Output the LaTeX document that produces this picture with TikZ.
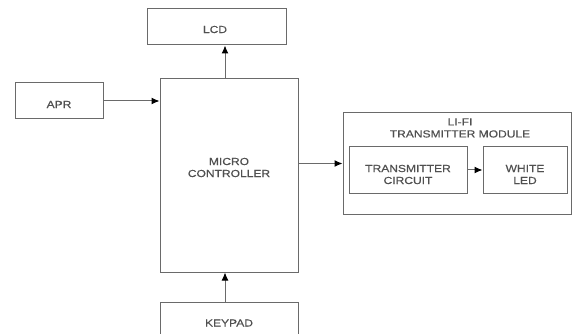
\documentclass[tikz,border=0pt]{standalone}
\usepackage{fontspec}
\setmainfont{Liberation Sans}[FakeStretch=1.18,FakeBold=0.3]
\usetikzlibrary{arrows.meta}
\definecolor{boxline}{HTML}{6A6A6A}
\definecolor{txt}{HTML}{505050}
\begin{document}
\begin{tikzpicture}[x=1pt,y=-1pt,
  blk/.style={draw=boxline,line width=1pt,fill=white,inner sep=0pt},
  lbl/.style={inner sep=0pt,text=txt,font=\fontsize{10.2}{12}\selectfont,align=center},
  conn/.style={draw=boxline,line width=1pt,-{Latex[length=8pt,width=7pt,black]}}]
\useasboundingbox (0,0) rectangle (573,334);
\clip (0,0) rectangle (573,334);
\fill[white] (0,0) rectangle (573,334);
\node[blk,minimum width=139pt,minimum height=36pt] (lcd) at (216.5,27) {};
\node[lbl] (lcdt) at (215,29.5) {LCD};
\node[blk,minimum width=88pt,minimum height=36pt] (apr) at (59,101) {};
\node[lbl] (aprt) at (59,104.5) {APR};
\node[blk,minimum width=138pt,minimum height=193pt] (mc) at (229,175.5) {};
\node[lbl] (mct) at (229,167.5) {MICRO\\CONTROLLER};
\node[blk,minimum width=138pt,minimum height=60pt,anchor=north] (kp) at (229,302) {};
\node[lbl] (kpt) at (229,323) {KEYPAD};
\node[blk,minimum width=228pt,minimum height=101pt] (lifi) at (457,163.5) {};
\node[lbl] (lifit) at (460,128) {LI-FI\\TRANSMITTER MODULE};
\node[blk,minimum width=118pt,minimum height=46pt] (tc) at (408,170) {};
\node[lbl] (tct) at (408,174.5) {TRANSMITTER\\CIRCUIT};
\node[blk,minimum width=84pt,minimum height=46pt] (wl) at (525,170) {};
\node[lbl] (wlt) at (525,174.5) {WHITE\\LED};
\draw[conn] (mc.north -| lcd.south) ++(8.5,0) coordinate (m1) -- (m1 |- lcd.south);
\draw[conn] (apr.east) -- (apr.east -| mc.west);
\coordinate (m2) at (mc.east |- lifi.west);
\draw[conn] (m2) -- (lifi.west);
\coordinate (k1) at (225,302);
\draw[conn] (k1) -- (k1 |- mc.south);
\draw[conn] (tc.east) -- (wl.west);
\end{tikzpicture}
\end{document}
